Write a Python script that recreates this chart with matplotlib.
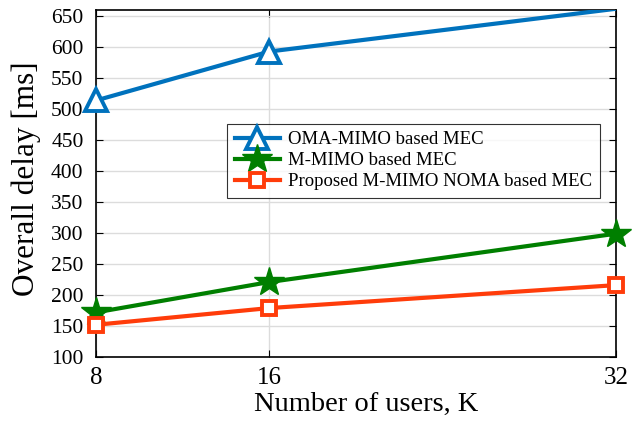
import matplotlib.pyplot as plt

plt.rcParams['font.family'] = ['Liberation Serif', 'DejaVu Serif']
plt.rcParams['mathtext.fontset'] = 'stix'

users = [8, 16, 32]
oma_mimo = [514, 593, 662]
m_mimo = [172, 221, 299]
proposed = [152, 179, 216]

fig = plt.figure(figsize=(6.41, 4.22), dpi=100)
ax = fig.add_axes([96 / 641, 1 - 357 / 422, 520 / 641, 347 / 422])

blue, green, red = '#0072BD', '#007F00', '#FF3C0A'

# OMA line goes past the top, so clip the line but keep visible markers whole
ax.plot(users, oma_mimo, color=blue, lw=3, zorder=3)
ax.plot(users[:2], oma_mimo[:2], ls='none', marker='^', ms=16, mfc='white',
        mec=blue, mew=2.8, clip_on=False, zorder=4)
ax.plot(users, m_mimo, color=green, lw=3, marker='*', ms=22, mew=1,
        clip_on=False, zorder=4)
ax.plot(users, proposed, color=red, lw=3, marker='s', ms=10.5, mfc='white',
        mew=2.8, clip_on=False, zorder=4)

# legend proxies
h1, = ax.plot([], [], color=blue, lw=3, marker='^', ms=16, mfc='white', mew=2.8)
h2, = ax.plot([], [], color=green, lw=3, marker='*', ms=22, mew=1)
h3, = ax.plot([], [], color=red, lw=3, marker='s', ms=10.5, mfc='white', mew=2.8)

ax.set_xlim(8, 32)
ax.set_ylim(100, 660)
ax.set_xticks(users)
ax.set_yticks(range(100, 651, 50))
ax.tick_params(direction='in', top=True, right=True, length=5)
ax.tick_params(axis='y', labelsize=15.5, pad=9)
ax.tick_params(axis='x', labelsize=18, pad=7)
ax.grid(True, color='#dcdcdc', lw=1)
for s in ax.spines.values():
    s.set_linewidth(1.2)

ax.set_xlabel('Number of users, K', fontsize=20.5)
ax.set_ylabel('Overall delay [ms]', fontsize=22.5)
ax.xaxis.set_label_coords(0.519, -0.10)
ax.yaxis.set_label_coords(-0.106, 0.514)

leg = ax.legend([h1, h2, h3],
                ['OMA-MIMO based MEC', 'M-MIMO based MEC',
                 'Proposed M-MIMO NOMA based MEC'],
                loc='upper left', bbox_to_anchor=(0.252, 0.672), fontsize=13.5,
                frameon=True, fancybox=False, edgecolor='black',
                handlelength=2.4, borderpad=0.4, labelspacing=0.2,
                handletextpad=0.45, borderaxespad=0)
leg.get_frame().set_linewidth(0.8)

fig.savefig('out.png', dpi=100)
